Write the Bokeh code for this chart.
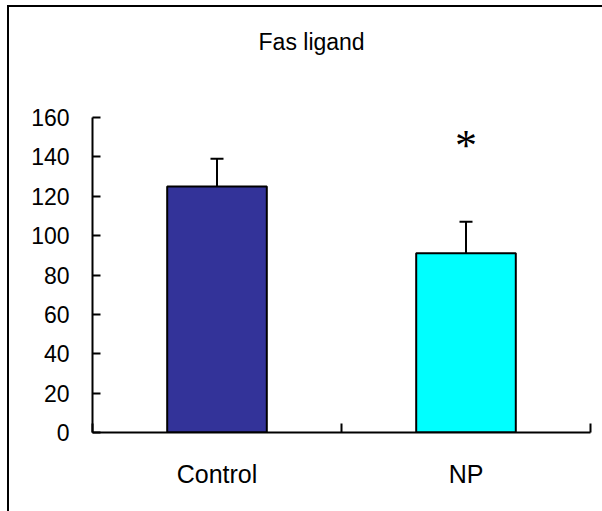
from bokeh.plotting import figure
from bokeh.models import (Range1d, FixedTicker, Whisker, TeeHead, ColumnDataSource,
                          LinearAxis, InlineStyleSheet)
from bokeh.core.properties import value
from bokeh.embed import file_html
from bokeh.resources import INLINE

# ---- data ----
categories = ["Control", "NP"]
means = [125, 91]
errors = [14, 16]
bar_colors = ["#333399", "#00FFFF"]
y_ticks = [0, 20, 40, 60, 80, 100, 120, 140, 160]
title_text = "Fas ligand"
sig_marks = ["", "*"]
sig_y = [0, 146]

xs = [i + 0.5 for i in range(len(categories))]
uppers = [m + e for m, e in zip(means, errors)]

src = ColumnDataSource(dict(x=xs, top=means, upper=uppers, color=bar_colors))

FONT = "Liberation Sans"

p = figure(width=602, height=511, output_backend="svg", toolbar_location=None,
           x_range=Range1d(0, len(categories)), y_range=Range1d(0, 160),
           min_border_left=92, min_border_right=12, min_border_top=117,
           min_border_bottom=79, x_axis_location=None, y_axis_location=None)
p.outline_line_color = None
p.grid.visible = False
p.background_fill_color = "white"
p.border_fill_color = "white"

# y axis
yax = LinearAxis(ticker=FixedTicker(ticks=y_ticks))
yax.major_tick_in = 8
yax.major_tick_out = 0
yax.minor_tick_line_color = None
yax.axis_line_width = 2
yax.major_tick_line_width = 2
yax.major_label_standoff = 23
yax.major_label_text_font = FONT
yax.major_label_text_font_size = "23px"
yax.major_label_text_color = "black"
p.add_layout(yax, "left")

# x axis
xax = LinearAxis(ticker=FixedTicker(ticks=xs, minor_ticks=list(range(len(categories) + 1))))
xax.major_label_overrides = {x: c for x, c in zip(xs, categories)}
xax.major_tick_in = 0
xax.major_tick_out = 0
xax.major_tick_line_color = None
xax.minor_tick_in = 9
xax.minor_tick_out = 0
xax.minor_tick_line_width = 2
xax.minor_tick_line_color = "black"
xax.axis_line_width = 2
xax.major_label_standoff = 27
xax.major_label_text_font = FONT
xax.major_label_text_font_size = "25px"
xax.major_label_text_color = "black"
p.add_layout(xax, "below")

# title, drawn as the single label of an invisible axis above the frame
title_pos = 0.88
tax = LinearAxis(ticker=FixedTicker(ticks=[title_pos], minor_ticks=[]))
tax.major_label_overrides = {title_pos: title_text}
tax.axis_line_color = None
tax.major_tick_line_color = None
tax.minor_tick_line_color = None
tax.major_tick_in = 0
tax.major_tick_out = 0
tax.major_label_standoff = 63
tax.major_label_text_font = FONT
tax.major_label_text_font_size = "23px"
tax.major_label_text_color = "black"
p.add_layout(tax, "above")

# error bars (upper only)
wh = Whisker(source=src, base="x", lower="top", upper="upper", dimension="height",
             line_width=2, line_color="black",
             upper_head=TeeHead(size=13, line_width=2, line_color="black"),
             lower_head=None, level="underlay")
p.add_layout(wh)

# bars
p.vbar(x="x", top="top", width=0.4, bottom=0, source=src, fill_color="color",
       line_color="black", line_width=2)

# significance marker
p.text(x=xs, y=sig_y, text=sig_marks, text_font=value("Liberation Serif"),
       text_font_size="44px", text_align="center", text_baseline="middle",
       text_color="black")

# outer border (left and top edges)
css = (":host { position: relative; } "
       ":host::after { content: ''; position: absolute; left: 7px; top: 5px; "
       "width: 595px; height: 506px; border-left: 2px solid black; "
       "border-top: 2px solid black; box-sizing: border-box; pointer-events: none; }")
p.stylesheets = [InlineStyleSheet(css=css)]

open("out.html", "w").write(file_html(p, INLINE))
